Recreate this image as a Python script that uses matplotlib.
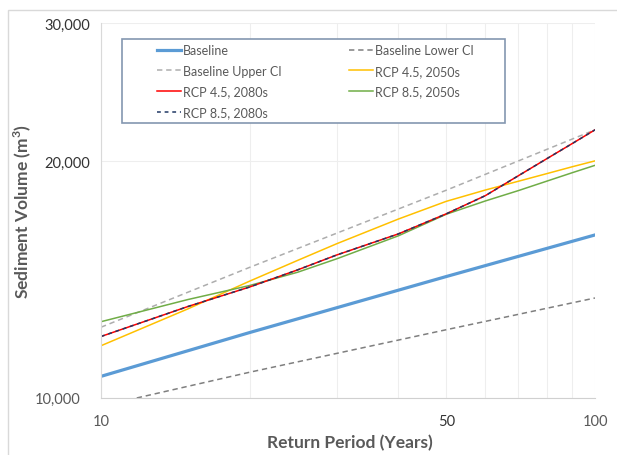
import matplotlib
matplotlib.use('Agg')
import matplotlib.pyplot as plt
from matplotlib.ticker import FixedLocator, NullFormatter, FuncFormatter
from matplotlib.patches import Rectangle
from matplotlib.transforms import ScaledTranslation

plt.rcParams['font.family'] = ['Lato', 'DejaVu Sans']

# return periods (years)
ci_period = [10, 20, 50, 100]
return_period = [10, 15, 20, 25, 30, 40, 50, 60, 70, 80, 90, 100]

# sediment volume (m3)
baseline = [10640, 12100, 14260, 16110]
baseline_lower = [9750, 10770, 12200, 13390]
baseline_upper = [12290, 14650, 18370, 21930]

rcp45_2050s = [11640, 12970, 14070, 14950, 15700, 16880, 17780, 18380, 18860, 19290, 19680, 20020]
rcp45_2080s = [11960, 13060, 13830, 14540, 15190, 16160, 17140, 18080, 19170, 20160, 21070, 21930]
rcp85_2050s = [12490, 13330, 13890, 14440, 15020, 16070, 17120, 17800, 18350, 18870, 19340, 19760]
rcp85_2080s = [11960, 13060, 13830, 14540, 15190, 16160, 17140, 18080, 19170, 20160, 21070, 21930]

W, H = 617, 456
fig = plt.figure(figsize=(W / 100, H / 100), dpi=100)
ax = fig.add_axes([101 / W, 1 - 398.5 / H, 494 / W, 374.5 / H])

l_base, = ax.plot(ci_period, baseline, color='#5B9BD5', lw=2.3, label='Baseline')
l_low, = ax.plot(ci_period, baseline_lower, color='#7F7F7F', lw=1.1,
                 ls=(0, (3.5, 2.5)), label='Baseline Lower CI')
l_up, = ax.plot(ci_period, baseline_upper, color='#ADADAD', lw=1.1,
                ls=(0, (3.5, 2.5)), label='Baseline Upper CI')
l_4550, = ax.plot(return_period, rcp45_2050s, color='#FFC000', lw=1.1, label='RCP 4.5, 2050s')
l_8550, = ax.plot(return_period, rcp85_2050s, color='#70AD47', lw=1.1, label='RCP 8.5, 2050s')
l_4580, = ax.plot(return_period, rcp45_2080s, color='#FF0000', lw=1.1, label='RCP 4.5, 2080s')
l_8580, = ax.plot(return_period, rcp85_2080s, color='#203864', lw=1.1,
                  ls=(0, (2.5, 2.5)), label='RCP 8.5, 2080s')

ax.set_xscale('log')
ax.set_yscale('log')
ax.set_xlim(10, 100)
ax.set_ylim(10000, 30000)

ax.xaxis.set_major_locator(FixedLocator([10, 50, 100]))
ax.xaxis.set_minor_locator(FixedLocator([20, 30, 40, 60, 70, 80, 90]))
ax.xaxis.set_major_formatter(FuncFormatter(lambda v, p: f'{v:.0f}'))
ax.xaxis.set_minor_formatter(NullFormatter())
ax.yaxis.set_major_locator(FixedLocator([10000, 20000, 30000]))
ax.yaxis.set_minor_locator(FixedLocator([]))
ax.yaxis.set_major_formatter(FuncFormatter(lambda v, p: f'{v:,.0f}'))
ax.yaxis.set_minor_formatter(NullFormatter())

ax.grid(which='both', color='#EEEEEE', lw=0.8, zorder=0)
ax.set_axisbelow(True)
ax.tick_params(which='both', length=0)
ax.tick_params(axis='x', pad=12, labelsize=10.5, labelcolor='#595959')
ax.tick_params(axis='y', pad=8, labelsize=10.5, labelcolor='#595959')

# excel-style darker labels on some ticks, bottom y label sits a bit further left
for lab in ax.get_yticklabels():
    if lab.get_text() in ('20,000', '30,000'):
        lab.set_color('#333333')
    if lab.get_text() == '10,000':
        lab.set_transform(lab.get_transform() + ScaledTranslation(-0.09, 0, fig.dpi_scale_trans))
for lab in ax.get_xticklabels():
    if lab.get_text() == '50':
        lab.set_color('#333333')

for s in ('top', 'right'):
    ax.spines[s].set_visible(False)
ax.spines['left'].set_color('#D9D9D9')
ax.spines['bottom'].set_color('#D0D0D0')

ax.set_xlabel('Return Period (Years)', fontsize=12.5, fontweight='bold', color='#595959')
ax.xaxis.set_label_coords(0.503, -0.098)
ax.set_ylabel('Sediment Volume (m$^\\mathregular{3}$)', fontsize=12.5, fontweight='bold',
              color='#595959')
ax.yaxis.set_label_coords(-0.138, 0.5)

# outer chart border
fig.patches.append(Rectangle((8 / W, -0.1), 1.1, 1 - 11 / H + 0.1, transform=fig.transFigure,
                             fill=False, edgecolor='#D9D9D9', lw=1))

# legend box and two columns of entries
fig.patches.append(Rectangle((122 / W, 1 - 124 / H), 383 / W, 84 / H, transform=fig.transFigure,
                             facecolor='white', edgecolor='#8497B0', lw=1.2))

leg_kw = dict(loc='upper left', frameon=False, fontsize=9, labelcolor='#595959',
              handlelength=1.9, handletextpad=0.15, borderpad=0, borderaxespad=0,
              labelspacing=0.7)
fig.legend(handles=[l_base, l_up, l_4580, l_8580], bbox_to_anchor=(157 / W, 1 - 45 / H), **leg_kw)
fig.legend(handles=[l_low, l_4550, l_8550], bbox_to_anchor=(349 / W, 1 - 45 / H), **leg_kw)

fig.savefig('out.png', dpi=100)
